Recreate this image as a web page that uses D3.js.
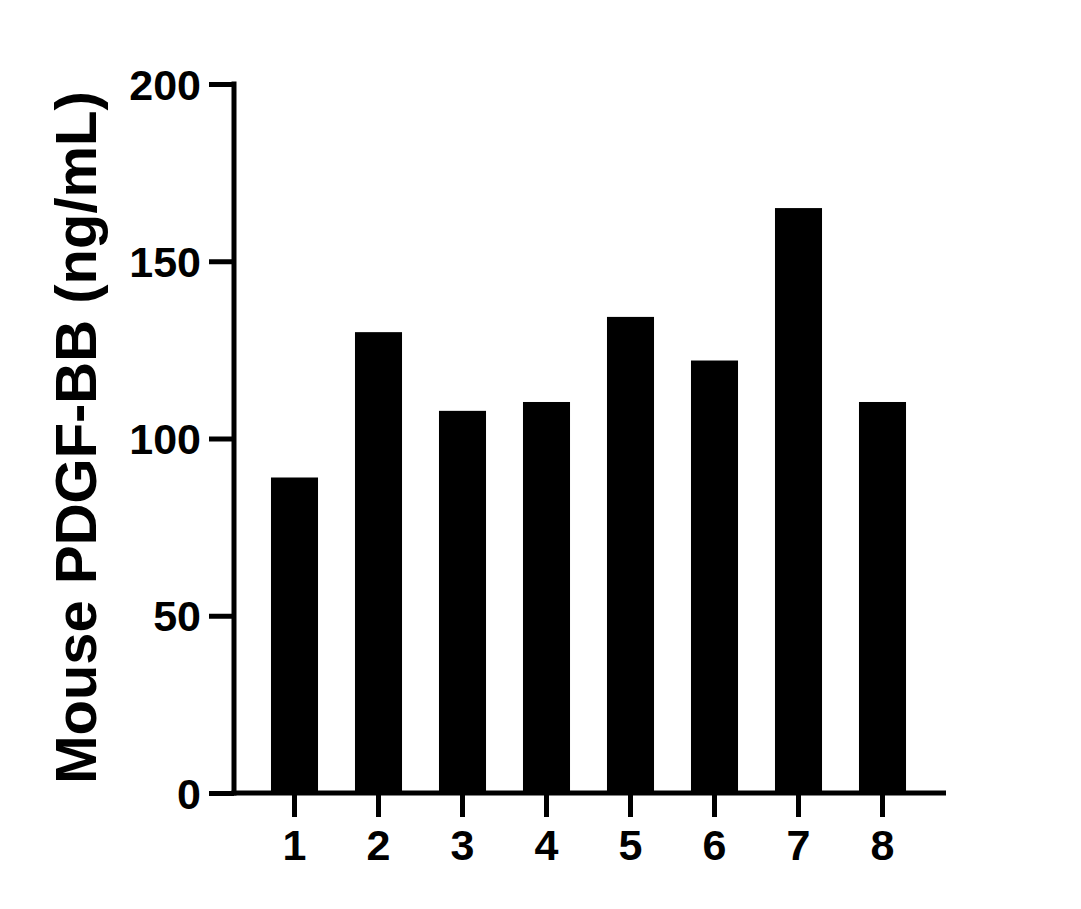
<!DOCTYPE html>
<html>
<head>
<meta charset="utf-8">
<script src="https://cdn.jsdelivr.net/npm/d3@7"></script>
<style>
  body { margin: 0; background: #fff; }
  text { font-family: "Liberation Sans", Arial, sans-serif; font-weight: bold; fill: #000; }
</style>
</head>
<body>
<div class="chart"></div>
<script>
// data
var categories = ["1", "2", "3", "4", "5", "6", "7", "8"];
var values = [89, 130, 107.8, 110.3, 134.3, 122, 165, 110.3];
var yTicks = [0, 50, 100, 150, 200];
var yTitle = "Mouse PDGF-BB (ng/mL)";

var svgWidth = 1081;
var svgHeight = 909;

var svg = d3.select(".chart")
  .append("svg")
  .attr("width", svgWidth)
  .attr("height", svgHeight);

// plot box in page pixels
var x0 = 234, x1 = 946, yTop = 84, yBottom = 793;

var xScale = d3.scaleBand()
  .domain(categories)
  .range([252.5, 924.5])
  .paddingInner(0.44)
  .paddingOuter(0.22);

var yScale = d3.scaleLinear()
  .domain([0, 200])
  .range([yBottom, yTop]);

// bars
svg.selectAll("rect.bar")
  .data(values)
  .enter()
  .append("rect")
  .attr("class", "bar")
  .attr("x", (d, i) => xScale(categories[i]))
  .attr("y", d => yScale(d))
  .attr("width", xScale.bandwidth())
  .attr("height", d => yBottom - yScale(d))
  .attr("fill", "#000");

// y axis
var yAxis = d3.axisLeft(yScale)
  .tickValues(yTicks)
  .tickSize(25)
  .tickPadding(8)
  .tickFormat(d3.format("d"));

var yg = svg.append("g")
  .attr("transform", `translate(${x0}, 0)`)
  .call(yAxis);

yg.select(".domain").remove();
yg.append("line")
  .attr("x1", 0).attr("x2", 0)
  .attr("y1", yTop - 2.5).attr("y2", yBottom + 2.5)
  .attr("stroke", "#000").attr("stroke-width", 5);
yg.selectAll(".tick line").attr("stroke", "#000").attr("stroke-width", 5);
yg.selectAll(".tick text")
  .attr("font-size", 43)
  .attr("dy", "0.35em")
  .style("font-family", "'Liberation Sans', Arial, sans-serif")
  .style("font-weight", "bold");

// x axis
var xAxis = d3.axisBottom(xScale)
  .tickSize(24)
  .tickPadding(12);

var xg = svg.append("g")
  .attr("transform", `translate(0, ${yBottom})`)
  .call(xAxis);

xg.select(".domain").remove();
xg.append("line")
  .attr("x1", x0 - 2.5).attr("x2", x1)
  .attr("y1", 0).attr("y2", 0)
  .attr("stroke", "#000").attr("stroke-width", 5);
xg.selectAll(".tick line").attr("stroke", "#000").attr("stroke-width", 5);
xg.selectAll(".tick text")
  .attr("font-size", 43)
  .style("font-family", "'Liberation Sans', Arial, sans-serif")
  .style("font-weight", "bold");

// y title
svg.append("text")
  .attr("transform", `translate(96, ${(yTop + yBottom) / 2 - 1}) rotate(-90)`)
  .attr("text-anchor", "middle")
  .attr("font-size", 58)
  .text(yTitle);
</script>
</body>
</html>
